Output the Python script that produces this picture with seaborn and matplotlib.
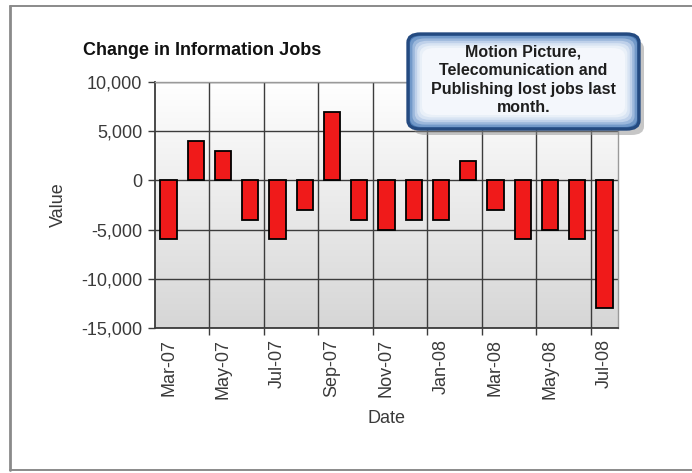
import numpy as np
import pandas as pd
import matplotlib
matplotlib.use("Agg")
import matplotlib.pyplot as plt
import seaborn as sns
from matplotlib.colors import LinearSegmentedColormap
from matplotlib.patches import FancyBboxPatch
from matplotlib.lines import Line2D

# Monthly change in information-sector jobs
months = ["Mar-07", "Apr-07", "May-07", "Jun-07", "Jul-07", "Aug-07", "Sep-07",
          "Oct-07", "Nov-07", "Dec-07", "Jan-08", "Feb-08", "Mar-08", "Apr-08",
          "May-08", "Jun-08", "Jul-08"]
changes = [-6000, 4000, 3000, -4000, -6000, -3000, 7000, -4000, -5000, -4000,
           -4000, 2000, -3000, -6000, -5000, -6000, -13000]
y_ticks = [10000, 5000, 0, -5000, -10000, -15000]
title = "Change in Information Jobs"
note = "Motion Picture,\nTelecomunication and\nPublishing lost jobs last\nmonth."

df = pd.DataFrame({"Date": months, "Value": changes})

sns.set_theme(style="white")
plt.rcParams["font.family"] = ["Liberation Sans", "DejaVu Sans"]

W, H = 692, 473
fig = plt.figure(figsize=(W / 100, H / 100), dpi=100)
fig.patch.set_facecolor("white")

# outer frame: left, top and bottom edges
def fline(xs, ys, **kw):
    fig.lines.append(Line2D([x / W for x in xs], [1 - y / H for y in ys],
                            transform=fig.transFigure, **kw))

fline([10, 10], [6, 470], color="#8a8a8a", linewidth=2.0)
fline([10, W], [6, 6], color="#8a8a8a", linewidth=1.4)
fline([10, W], [470, 470], color="#8a8a8a", linewidth=1.4)

ax = fig.add_axes([155 / W, 1 - 328 / H, (618 - 155) / W, (328 - 82) / H])

# plot-area gradient: white at top to light grey at bottom
grad = np.linspace(0, 1, 256).reshape(-1, 1)
cmap = LinearSegmentedColormap.from_list("bg", ["#ffffff", "#d6d6d6"])
ax.imshow(grad, aspect="auto", cmap=cmap, extent=[-0.5, 16.5, -15000, 10000],
          zorder=0, origin="upper")

sns.barplot(data=df, x="Date", y="Value", color="#f01a1a", edgecolor="black",
            linewidth=1.3, width=0.6, saturation=1, ax=ax, zorder=3)

ax.set_xlim(-0.5, 16.5)
ax.set_ylim(-15000, 10000)

# grid lines
for yv in y_ticks:
    ax.axhline(yv, color="#3c3c3c", linewidth=1.0, zorder=1)
for xv in np.arange(1.5, 16.5, 2):
    ax.axvline(xv, color="#3c3c3c", linewidth=1.0, zorder=1)

ax.set_yticks(y_ticks)
ax.set_yticklabels([f"{v:,}" for v in y_ticks])
ax.set_xticks(range(0, 17, 2))
ax.set_xticklabels(months[::2], rotation=90)
ax.set_xticks(np.arange(1.5, 16.5, 2), minor=True)

ax.tick_params(axis="y", which="major", direction="out", length=5, width=1,
               color="#3c3c3c", labelsize=13, labelcolor="#3a3a3a", pad=4, left=True)
ax.tick_params(axis="x", which="major", length=0, labelsize=13,
               labelcolor="#3a3a3a", pad=8)
ax.tick_params(axis="x", which="minor", direction="out", length=5, width=1,
               color="#3c3c3c", bottom=True)

for side, sp in ax.spines.items():
    sp.set_visible(True)
    sp.set_color("#3c3c3c" if side in ("left", "bottom") else "#9a9a9a")
    sp.set_linewidth(1.3 if side in ("left", "bottom") else 1.0)

ax.set_xlabel("Date", fontsize=13, color="#3a3a3a", labelpad=8)
ax.set_ylabel("Value", fontsize=13, color="#3a3a3a", labelpad=10)

fig.text(83 / W, 1 - 55 / H, title, fontsize=13, fontweight="bold",
         color="#111111", ha="left", va="baseline")

# callout box with shadow and soft blue rim
bx0, by0, bx1, by1 = 408, 34, 639, 129
def fbox(x0, y0, x1, y1, **kw):
    return FancyBboxPatch((x0 / W, 1 - y1 / H), (x1 - x0) / W, (y1 - y0) / H,
                          boxstyle="round,pad=0,rounding_size=0.018",
                          transform=fig.transFigure, **kw)

fig.patches.append(fbox(bx0 + 5, by0 + 6, bx1 + 5, by1 + 6,
                        facecolor="#8f8f8f", edgecolor="none", alpha=0.5, zorder=5))
fig.patches.append(fbox(bx0, by0, bx1, by1, facecolor="#4a7ab5",
                        edgecolor="#244a80", linewidth=2.4, zorder=6))
rim = ["#7299c9", "#9cb8dc", "#bfd1ea", "#d8e4f3", "#e9f0f8", "#f4f7fc"]
for i, c in enumerate(rim):
    d = 2 + i * 2.4
    fig.patches.append(fbox(bx0 + d, by0 + d, bx1 - d, by1 - d,
                            facecolor=c, edgecolor="none", zorder=6 + i * 0.1 + 0.1))
fig.text((bx0 + bx1) / 2 / W, 1 - 80 / H, note, fontsize=11.5,
         fontweight="bold", color="#1e1e1e", ha="center", va="center",
         linespacing=1.3, zorder=8)

fig.savefig("out.png", dpi=100)
